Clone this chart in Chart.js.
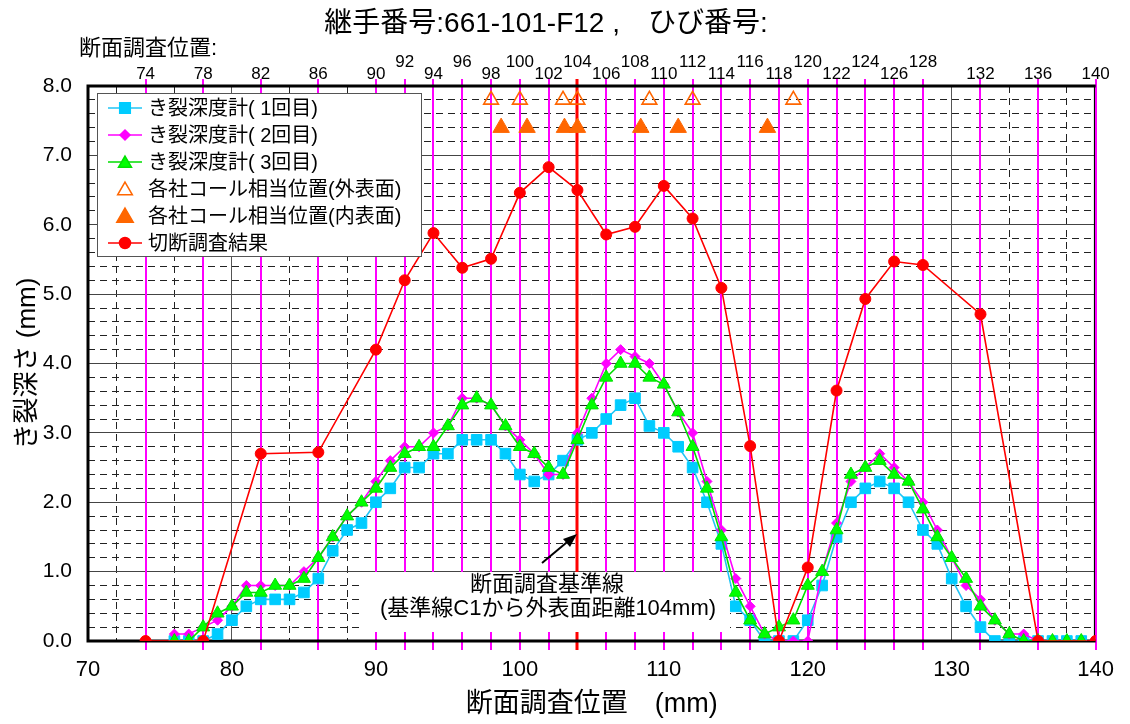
<!DOCTYPE html>
<html>
<head>
<meta charset="utf-8">
<script src="https://cdn.jsdelivr.net/npm/chart.js@4.4.1/dist/chart.umd.min.js"></script>
<style>
  html, body { margin: 0; padding: 0; background: #fff; }
  #c { display: block; }
</style>
</head>
<body>
<canvas id="c" width="1130" height="724"></canvas>
<script>
// measuring positions (mm) of the crack depth gauge
const gaugePos = [76,77,78,79,80,81,82,83,84,85,86,87,88,89,90,91,92,93,94,95,96,97,98,99,
  100,101,102,103,104,105,106,107,108,109,110,111,112,113,114,115,116,117,118,119,
  120,121,122,123,124,125,126,127,128,129,130,131,132,133,134,135,136,137,138,139];
const depth1 = [0,0,0,0.1,0.3,0.5,0.6,0.6,0.6,0.7,0.9,1.3,1.6,1.7,2.0,2.2,2.5,2.5,2.7,2.7,
  2.9,2.9,2.9,2.7,2.4,2.3,2.4,2.6,2.9,3.0,3.2,3.4,3.5,3.1,3.0,2.8,2.5,2.0,1.4,0.5,0.3,0,0,0,
  0.3,0.8,1.5,2.0,2.2,2.3,2.2,2.0,1.6,1.4,0.9,0.5,0.2,0,0,0,0,0,0,0];
const depth2 = [0.1,0.1,0.2,0.3,0.5,0.8,0.8,0.8,0.8,1.0,1.2,1.5,1.8,2.0,2.3,2.6,2.8,2.8,3.0,3.1,
  3.5,3.5,3.4,3.1,2.9,2.7,2.4,2.4,3.0,3.5,4.0,4.2,4.1,4.0,3.7,3.3,3.0,2.3,1.6,0.9,0.5,0.1,0,0,
  0,1.0,1.7,2.3,2.5,2.7,2.5,2.3,2.0,1.6,1.2,0.8,0.6,0.3,0.1,0.1,0,0,0,0];
const depth3 = [0,0,0.2,0.4,0.5,0.7,0.7,0.8,0.8,0.9,1.2,1.5,1.8,2.0,2.2,2.5,2.7,2.8,2.8,3.1,
  3.4,3.5,3.4,3.1,2.8,2.7,2.5,2.4,2.9,3.4,3.8,4.0,4.0,3.8,3.7,3.3,2.8,2.2,1.5,0.7,0.3,0.1,0.2,0.3,
  0.8,1.0,1.6,2.4,2.5,2.6,2.4,2.3,1.9,1.5,1.2,0.9,0.5,0.3,0.1,0,0,0,0,0];

// call positions reported by each company
const callOuterX = [98,100,103,104,109,112,119];
const callOuterY = [7.8,7.8,7.8,7.8,7.8,7.8,7.8];
const callInnerX = [98.7,100.5,103.1,104,108.4,111,117.2];
const callInnerY = [7.4,7.4,7.4,7.4,7.4,7.4,7.4];

// section survey positions and cut results
const surveyPos = [74,78,82,86,90,92,94,96,98,100,102,104,106,108,110,112,114,116,118,120,122,124,126,128,132,136,140];
const cutDepth = [0,0,2.7,2.72,4.2,5.2,5.88,5.38,5.51,6.46,6.83,6.5,5.86,5.97,6.56,6.09,5.09,2.81,0,1.06,3.61,4.93,5.47,5.42,4.71,0,0];
const basePos = 104;

const labels = ['き裂深度計( 1回目)','き裂深度計( 2回目)','き裂深度計( 3回目)',
  '各社コール相当位置(外表面)','各社コール相当位置(内表面)','切断調査結果'];

const FONT = "'Liberation Sans', 'Noto Sans CJK JP', sans-serif";
Chart.defaults.font.family = FONT;
Chart.defaults.color = '#000';

const pts = (xs, ys) => xs.map((x, i) => ({ x: x, y: ys[i] }));
const isInt = v => Math.abs(v - Math.round(v)) < 1e-6;

function marker(c, style, x, y, r, fill, stroke) {
  c.save();
  c.fillStyle = fill || '#fff'; c.strokeStyle = stroke; c.lineWidth = 1.5;
  c.beginPath();
  if (style === 'rect') { const s = r * Math.SQRT1_2; c.rect(x - s, y - s, 2 * s, 2 * s); }
  else if (style === 'rectRot') { c.moveTo(x, y - r); c.lineTo(x + r, y); c.lineTo(x, y + r); c.lineTo(x - r, y); c.closePath(); }
  else if (style === 'triangle') {
    for (let k = 0; k < 3; k++) {
      const a = -Math.PI / 2 + k * 2 * Math.PI / 3;
      const px = x + Math.cos(a) * r, py = y + Math.sin(a) * r;
      k ? c.lineTo(px, py) : c.moveTo(px, py);
    }
    c.closePath();
  } else { c.arc(x, y, r, 0, Math.PI * 2); }
  if (fill) c.fill();
  c.stroke();
  c.restore();
}

const decor = {
  id: 'decor',
  beforeDraw(chart) {
    const c = chart.ctx;
    c.save(); c.fillStyle = '#fff'; c.fillRect(0, 0, chart.width, chart.height); c.restore();
  },
  beforeDatasetsDraw(chart) {
    const c = chart.ctx, xs = chart.scales.x, a = chart.chartArea;
    c.save();
    c.strokeStyle = '#000'; c.lineWidth = 1.5;
    c.beginPath(); c.moveTo(a.right - 1, a.top); c.lineTo(a.right - 1, a.bottom); c.stroke();
    // survey position lines
    surveyPos.forEach(p => {
      const px = Math.round(xs.getPixelForValue(p));
      const base = p === basePos;
      c.strokeStyle = base ? '#FF0000' : '#FF00FF';
      c.lineWidth = base ? 3 : 2;
      c.beginPath(); c.moveTo(px, a.top - 7); c.lineTo(px, a.bottom + 9); c.stroke();
    });
    // note box
    c.fillStyle = '#fff';
    c.fillRect(362, 572, 368, 60);
    c.fillStyle = '#000';
    c.font = '22px ' + FONT;
    c.textAlign = 'center'; c.textBaseline = 'middle';
    c.fillText('断面調査基準線', 547, 585);
    c.fillText('(基準線C1から外表面距離104mm)', 548, 609);
    // arrow
    c.strokeStyle = '#000'; c.lineWidth = 2;
    c.beginPath(); c.moveTo(542, 563); c.lineTo(572, 538); c.stroke();
    c.beginPath(); c.moveTo(577, 534); c.lineTo(563, 539); c.lineTo(570, 547); c.closePath();
    c.fillStyle = '#000'; c.fill();
    // frame
    c.strokeStyle = '#000'; c.lineWidth = 3;
    c.beginPath();
    c.moveTo(a.right, a.top); c.lineTo(a.left, a.top); c.lineTo(a.left, a.bottom); c.lineTo(a.right, a.bottom);
    c.stroke();
    c.restore();
  },
  afterDatasetsDraw(chart) {
    const c = chart.ctx;
    c.save();
    c.fillStyle = '#fff'; c.strokeStyle = '#555'; c.lineWidth = 1;
    c.fillRect(97, 93, 324, 163);
    c.strokeRect(97.5, 93.5, 324, 163);
    chart.data.datasets.forEach((ds, i) => {
      const y = 108 + i * 27;
      if (ds.showLine) {
        c.strokeStyle = ds.borderColor; c.lineWidth = 1.6;
        c.beginPath(); c.moveTo(108, y); c.lineTo(142, y); c.stroke();
      }
      marker(c, ds.pointStyle, 125, ds.pointStyle === 'triangle' ? y + 1.5 : y, ds.pointRadius,
        ds.backgroundColor === 'transparent' ? null : ds.backgroundColor, ds.pointBorderColor);
      c.fillStyle = '#000';
      c.font = '20px ' + FONT;
      c.textAlign = 'left'; c.textBaseline = 'middle';
      c.fillText(ds.label, 148, y + 1);
    });
    c.restore();
  },
  afterDraw(chart) {
    const c = chart.ctx, xs = chart.scales.x;
    c.save();
    c.fillStyle = '#000';
    c.textAlign = 'center'; c.textBaseline = 'middle';
    c.font = '28px ' + FONT;
    c.fillText('継手番号:661-101-F12 ,　ひび番号:', 546, 24);
    c.textAlign = 'left';
    c.font = '22px ' + FONT;
    c.fillText('断面調査位置:', 79, 49);
    c.textAlign = 'center';
    c.font = '17px ' + FONT;
    surveyPos.forEach(p => {
      const high = p >= 92 && p <= 128 && p % 4 === 0;
      c.fillText(String(p), xs.getPixelForValue(p), high ? 62 : 74);
    });
    c.restore();
  }
};

new Chart(document.getElementById('c'), {
  type: 'scatter',
  data: {
    datasets: [
      { label: labels[0], data: pts(gaugePos, depth1), showLine: true, borderColor: '#22C4F4', borderWidth: 1.6,
        backgroundColor: '#00CCFF', pointBorderColor: '#00CCFF', pointBorderWidth: 1, pointStyle: 'rect', pointRadius: 7.5, order: 6 },
      { label: labels[1], data: pts(gaugePos, depth2), showLine: true, borderColor: '#FF00FF', borderWidth: 1.6,
        backgroundColor: '#FF00FF', pointBorderColor: '#FF00FF', pointBorderWidth: 1, pointStyle: 'rectRot', pointRadius: 5, order: 5 },
      { label: labels[2], data: pts(gaugePos, depth3), showLine: true, borderColor: '#00DD00', borderWidth: 1.6,
        backgroundColor: '#00FF00', pointBorderColor: '#00E000', pointBorderWidth: 1, pointStyle: 'triangle', pointRadius: 7.5, order: 4 },
      { label: labels[3], data: pts(callOuterX, callOuterY), showLine: false,
        backgroundColor: 'transparent', pointBorderColor: '#FF6600', pointBorderWidth: 1.6, pointStyle: 'triangle', pointRadius: 8.5, order: 3 },
      { label: labels[4], data: pts(callInnerX, callInnerY), showLine: false,
        backgroundColor: '#FF6600', pointBorderColor: '#FF6600', pointBorderWidth: 1, pointStyle: 'triangle', pointRadius: 9.5, order: 2 },
      { label: labels[5], data: pts(surveyPos, cutDepth), showLine: true, borderColor: '#FF0000', borderWidth: 1.6,
        backgroundColor: '#FF0000', pointBorderColor: '#FF0000', pointBorderWidth: 1, pointStyle: 'circle', pointRadius: 5.5, order: 1 }
    ]
  },
  options: {
    responsive: false,
    animation: false,
    events: [],
    layout: { padding: { top: 86, right: 23, left: 0, bottom: 0 } },
    plugins: { legend: { display: false }, tooltip: { enabled: false } },
    scales: {
      x: {
        type: 'linear', min: 70, max: 140,
        afterFit: s => { s.height = 83; },
        ticks: { stepSize: 2, autoSkip: false, maxRotation: 0, padding: 16,
          font: { size: 22 },
          callback: v => (v % 10 === 0 ? String(v) : '') },
        grid: { drawTicks: false,
          color: ctx => (ctx.tick && ctx.tick.value % 10 === 0 ? '#555' : '#222'),
          lineWidth: ctx => (ctx.tick && (ctx.tick.value === 70 || ctx.tick.value === 140) ? 0 : 1) },
        border: { display: false, dash: ctx => (ctx.tick && ctx.tick.value % 10 === 0 ? [] : [7, 5]) },
        title: { display: true, text: '断面調査位置　(mm)', font: { size: 27 }, padding: { top: 0, bottom: 3 } }
      },
      y: {
        min: 0, max: 8,
        afterFit: s => { s.width = 88; },
        ticks: { stepSize: 0.2, autoSkip: false, padding: 16,
          font: { size: 21 },
          callback: v => (isInt(v) ? v.toFixed(1) : '') },
        grid: { drawTicks: false,
          color: ctx => (ctx.tick && isInt(ctx.tick.value) ? '#444' : '#222'),
          lineWidth: ctx => (ctx.tick && (ctx.tick.value === 0 || ctx.tick.value === 8) ? 0 : 1) },
        border: { display: false, dash: ctx => (ctx.tick && isInt(ctx.tick.value) ? [] : [7, 5]) },
        title: { display: true, text: 'き裂深さ (mm)', font: { size: 26 }, padding: { top: 12, bottom: 0 } }
      }
    }
  },
  plugins: [decor]
});
</script>
</body>
</html>
